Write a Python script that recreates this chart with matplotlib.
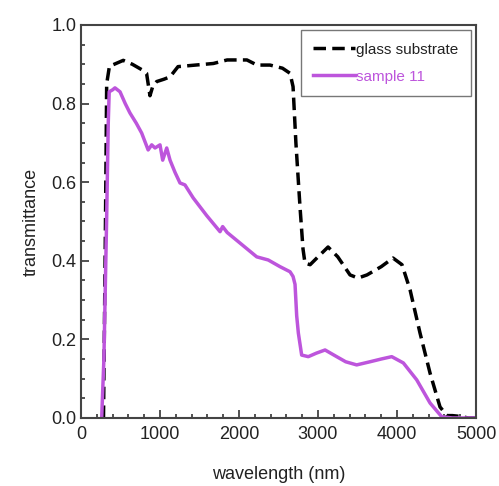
import numpy as np
import matplotlib.pyplot as plt

plt.rcParams['font.family'] = ['Liberation Sans', 'DejaVu Sans']

# glass substrate (dashed black)
glass_wl = [285, 310, 325, 360, 420, 535, 650, 780, 830, 873, 910, 958, 1050, 1127,
            1228, 1450, 1675, 1850, 2100, 2228, 2392, 2550, 2646, 2684, 2720, 2772,
            2810, 2835, 2900, 3000, 3127, 3250, 3405, 3506, 3620, 3800, 3949, 4063,
            4165, 4291, 4418, 4544, 4633, 4700, 4800, 4900, 5000]
glass_t = [0, 0.50, 0.85, 0.895, 0.90, 0.91, 0.90, 0.885, 0.877, 0.82, 0.845, 0.856,
           0.862, 0.868, 0.894, 0.898, 0.902, 0.911, 0.911, 0.898, 0.898, 0.89, 0.877,
           0.843, 0.70, 0.537, 0.43, 0.394, 0.39, 0.41, 0.435, 0.41, 0.364, 0.356,
           0.364, 0.385, 0.407, 0.39, 0.326, 0.216, 0.114, 0.028, 0.006, 0.006, 0.004,
           0.0, 0.0]

# sample 11 (solid purple)
samp_wl = [262, 290, 325, 345, 357, 400, 430, 494, 560, 620, 700, 768, 850, 895,
           937, 1000, 1034, 1085, 1127, 1190, 1253, 1316, 1420, 1591, 1760, 1793,
           1850, 2013, 2224, 2370, 2519, 2646, 2684, 2709, 2730, 2751, 2793, 2877,
           2980, 3089, 3236, 3350, 3489, 3658, 3800, 3933, 4080, 4249, 4418, 4566,
           4700, 5000]
samp_t = [0, 0.15, 0.51, 0.75, 0.83, 0.835, 0.84, 0.83, 0.80, 0.776, 0.75, 0.725,
          0.682, 0.695, 0.687, 0.695, 0.656, 0.687, 0.656, 0.625, 0.598, 0.593, 0.56,
          0.515, 0.474, 0.487, 0.472, 0.445, 0.41, 0.402, 0.385, 0.372, 0.36, 0.34,
          0.26, 0.216, 0.16, 0.156, 0.165, 0.173, 0.156, 0.143, 0.135, 0.143, 0.15,
          0.156, 0.14, 0.097, 0.038, 0.003, 0.0, 0.0]

purple = '#bd55dc'

fig = plt.figure(figsize=(4.99, 4.86), dpi=100)
ax = fig.add_axes([0.1623, 0.140, 0.7917, 0.8086])

ax.plot(glass_wl, glass_t, color='black', lw=2.5, dashes=(3.6, 1.8),
        label='glass substrate')
ax.plot(samp_wl, samp_t, color=purple, lw=2.5, label='sample 11')

ax.set_xlim(0, 5000)
ax.set_ylim(0, 1.0)
ax.set_xticks(np.arange(0, 5001, 1000))
ax.set_xticks(np.arange(0, 5001, 200), minor=True)
ax.set_yticks(np.arange(0, 1.01, 0.2))
ax.set_yticks(np.arange(0, 1.01, 0.05), minor=True)
ax.yaxis.set_major_formatter(plt.FormatStrFormatter('%.1f'))

ax.tick_params(which='both', direction='in', colors='#333333', labelcolor='#222222',
               labelsize=13, width=1.2)
ax.tick_params(which='major', length=6)
ax.tick_params(which='minor', length=3)
ax.tick_params(axis='x', pad=6)
for s in ax.spines.values():
    s.set_color('#444444')
    s.set_linewidth(1.5)

ax.set_xlabel('wavelength (nm)', fontsize=13, color='#222222', labelpad=16)
ax.set_ylabel('transmittance', fontsize=13, color='#222222', labelpad=8)

leg = ax.legend(loc='upper right', fontsize=11, frameon=True, fancybox=False,
                handlelength=2.7, borderpad=0.8, labelspacing=0.85,
                handletextpad=0.1, borderaxespad=0.35)
leg.get_frame().set_edgecolor('#555555')
leg.get_frame().set_linewidth(1.0)
leg.get_texts()[1].set_color(purple)
leg.get_texts()[0].set_color('#222222')

fig.savefig('out.png', dpi=100)
